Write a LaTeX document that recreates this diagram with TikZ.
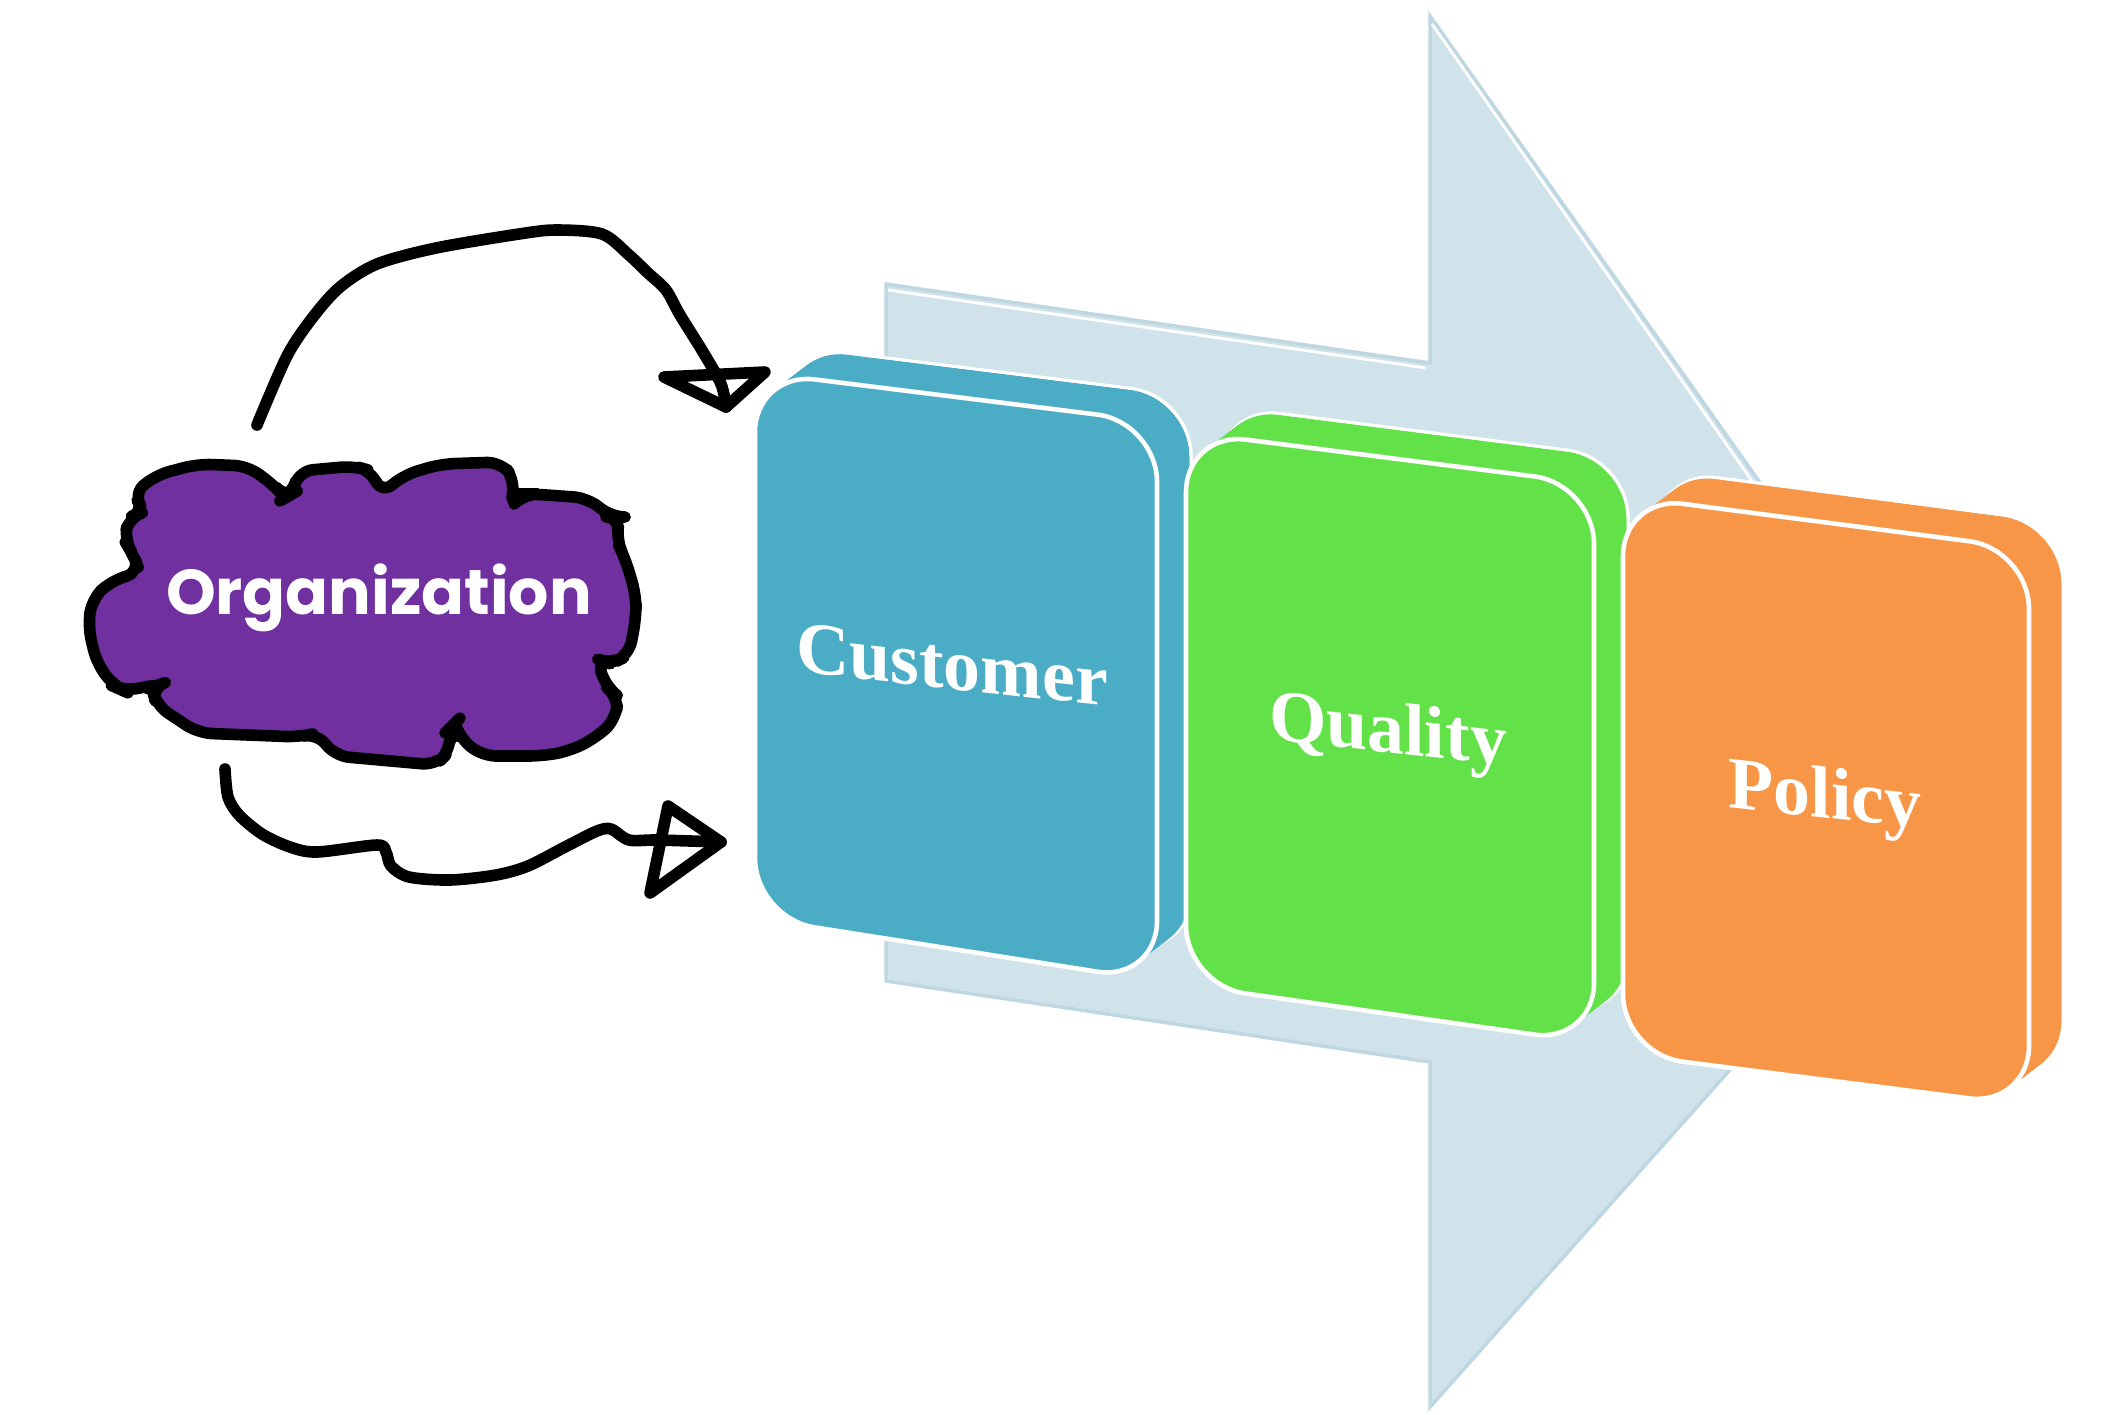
\documentclass[tikz,border=0pt]{standalone}
\usepackage{fontspec}
\newfontfamily\blockfont{Liberation Serif}
\newfontfamily\orgfont{Poppins}
\usetikzlibrary{positioning}
\definecolor{arrowbg}{HTML}{D0E3EA}
\definecolor{arrowedge}{HTML}{BED7E1}
\definecolor{custblue}{HTML}{4BACC6}
\definecolor{qualgreen}{HTML}{62E248}
\definecolor{polorange}{HTML}{F79646}
\definecolor{orgpurple}{HTML}{7030A0}
\tikzset{
        % Captions on the blocks, skewed like the faces
        block_text/.style={text=white, inner sep=0pt, yslant=-0.11, transform shape, font=\blockfont\bfseries\fontsize{21}{25}\selectfont},
        % Front face of a block
        block_face/.style={fill=#1, draw=white, line width=1.3pt, rounded corners=0.6cm},
        % Extruded side of a block
        block_side/.style={fill=#1, rounded corners=0.6cm},
        % Hand drawn strokes
        pen/.style={black, line width=3.3pt, line cap=round, line join=round},
        % Caption in the cloud
        org_text/.style={text=white, inner sep=0pt, font=\orgfont\bfseries\fontsize{18}{21}\selectfont}
}

\begin{document}
\begin{tikzpicture}[x=0.01cm, y=-0.01cm]
    \useasboundingbox (0,0) rectangle (2121,1414);
    % background arrow
    \fill[arrowbg, draw=arrowedge, line width=1pt] (886,284) -- (1430,363) -- (1430,16) -- (1978,791)
        -- (1430,1407) -- (1430,1062) -- (886,981) -- cycle;
    \draw[white, line width=0.8pt] (888,290) -- (1426,368);
    \draw[white, line width=0.8pt] (1432,24) -- (1972,795);
    % blocks: left mid, top left, top right, bottom right, bottom left
    \foreach \lm/\tl/\tr/\br/\bl/\col in {
        {(755,645)}/{(755,372)}/{(1157,422)}/{(1157,981)}/{(755,918)}/custblue,
        {(1186,708)}/{(1186,432)}/{(1594,484)}/{(1594,1043)}/{(1186,985)}/qualgreen,
        {(1623,775)}/{(1623,496)}/{(2029,549)}/{(2029,1106)}/{(1623,1054)}/polorange}
    {
        \draw[block_side=\col, draw=white, line width=1pt, shift={(34,-26)}]
            \lm -- \tl -- \tr -- \br -- \bl -- cycle;
        \foreach \t in {0,0.05,...,1}
            \fill[block_side=\col, shift={(34*\t,-26*\t)}] \lm -- \tl -- \tr -- \br -- \bl -- cycle;
        \draw[block_face=\col] \lm -- \tl -- \tr -- \br -- \bl -- cycle;
    }
    \begin{scope}[shift={(952,665)}]
        \node[block_text] (customer) at (0,0) {Customer};
    \end{scope}
    \begin{scope}[shift={(1388,735)}]
        \node[block_text] (quality) at (0,0) {Quality};
    \end{scope}
    \begin{scope}[shift={(1825,800)}]
        \node[block_text] (policy) at (0,0) {Policy};
    \end{scope}
    % cloud
    \draw[pen, fill=orgpurple, rounded corners=4pt] (133,494) -- (156,475) -- (198,464) -- (248,466) -- (276,487)
        -- (285,498) -- (292,494) -- (299,471) -- (354,466) -- (372,471) -- (381,494) -- (404,475) -- (441,464)
        -- (501,462) -- (515,480) -- (510,508) -- (524,494) -- (533,494) -- (588,498) -- (611,517) -- (620,517)
        -- (616,540) -- (625,558) -- (636,595) -- (636,618) -- (629,655) -- (611,664) -- (597,659) -- (606,687)
        -- (618,696) -- (616,719) -- (597,737) -- (570,751) -- (542,756) -- (482,756) -- (459,737) -- (455,723)
        -- (450,728) -- (450,751) -- (436,765) -- (335,756) -- (317,733) -- (299,737) -- (198,733) -- (156,705)
        -- (152,687) -- (161,684) -- (124,691) -- (115,687) -- (97,664) -- (88,627) -- (92,599) -- (111,581)
        -- (140,572) -- (133,554) -- (124,540) -- (129,517) -- (145,512) -- cycle;
    \node[org_text] (organization) at (379,598) {Organization};
    % hand drawn arrows
    \coordinate (upStart) at (257,425);
    \coordinate (upEnd) at (726,407);
    \coordinate (loStart) at (225,769);
    \coordinate (loEnd) at (721,842);
    \draw[pen] plot[smooth, tension=0.5] coordinates {(upStart) (287,356) (313,317) (340,287) (377,264) (436,248)
        (519,234) (556,230) (602,234) (629,255) (648,273) (666,290) (680,315) (703,352) (721,384) (upEnd)};
    \draw[pen] (664,377) -- (765,372) -- (upEnd) -- cycle;
    \draw[pen] plot[smooth, tension=0.5] coordinates {(loStart) (228,797) (239,815) (262,834) (290,847) (317,852)
        (377,845) (386,852) (391,866) (409,877) (450,880) (496,875) (528,866) (565,847) (597,831) (611,829)
        (629,840) (657,840) (loEnd)};
    \draw[pen] (668,806) -- (loEnd) -- (650,893) -- cycle;
\end{tikzpicture}
\end{document}
